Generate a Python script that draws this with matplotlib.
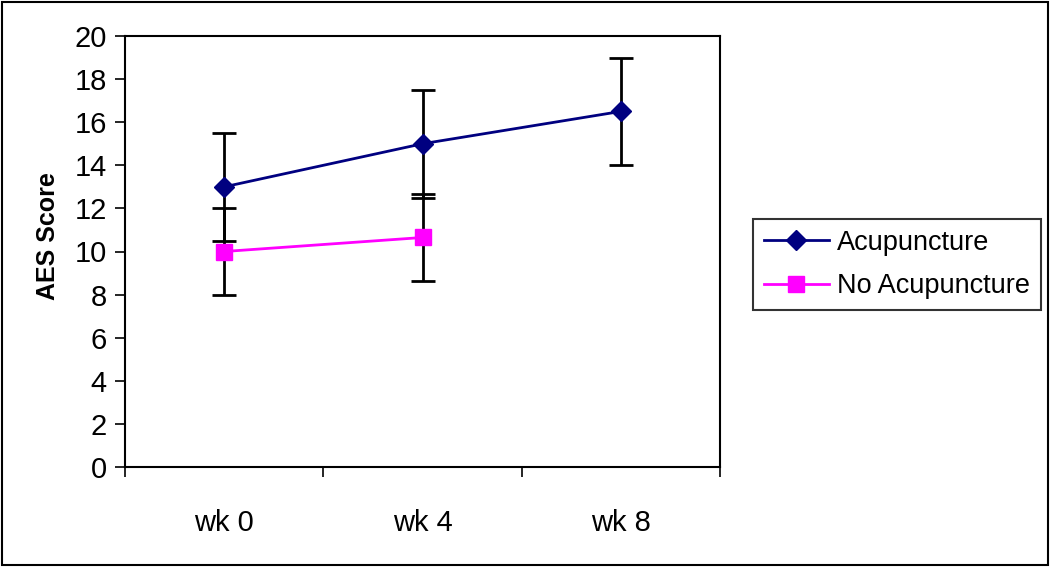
import numpy as np
import matplotlib.pyplot as plt
from matplotlib.patches import Rectangle

plt.rcParams['font.family'] = ['Liberation Sans', 'DejaVu Sans']

weeks = ['wk 0', 'wk 4', 'wk 8']
acu = [13.0, 15.0, 16.5]
acu_err = [2.5, 2.5, 2.5]
no_acu = [10.0, 10.65]
no_acu_err = [2.0, 2.0]

fig = plt.figure(figsize=(10.5, 5.67), dpi=100)
ax = fig.add_axes([125 / 1050, 1 - 467 / 567, 595 / 1050, 431 / 567])

x = np.arange(len(weeks)) + 0.5
ax.errorbar(x, acu, yerr=acu_err, color='#000080', lw=2, marker='D', ms=10.5,
            ecolor='black', elinewidth=2, capsize=8.5, capthick=2, label='Acupuncture')
ax.errorbar(x[:len(no_acu)], no_acu, yerr=no_acu_err, color='#FF00FF', lw=2, marker='s', ms=11,
            ecolor='black', elinewidth=2, capsize=8.5, capthick=2, label='No Acupuncture')

ax.set_xlim(0, 3)
ax.set_ylim(0, 20)
ax.set_yticks(np.arange(0, 21, 2))
ax.set_xticks([0, 1, 2, 3])
ax.set_xticklabels([])
ax.set_xticks(x, minor=True)
ax.set_xticklabels(weeks, minor=True)
ax.tick_params(axis='x', which='minor', length=0, pad=30, labelsize=21)
ax.tick_params(axis='x', which='major', length=7, width=1.2, direction='out')
ax.tick_params(axis='y', length=7, width=1.2, direction='out', labelsize=21, pad=6)
ax.set_ylabel('AES Score', fontsize=18, fontweight='bold')
ax.yaxis.set_label_coords(-0.11, 0.535)
for s in ax.spines.values():
    s.set_linewidth(1.5)

handles, labels = ax.get_legend_handles_labels()
leg = ax.legend([h[0] for h in handles], labels, loc='center left', bbox_to_anchor=(1.055, 0.47),
                fontsize=19.5, frameon=True, fancybox=False, edgecolor='black', handlelength=2.4,
                borderpad=0.4, labelspacing=0.65, handletextpad=0.3, borderaxespad=0)
leg.get_frame().set_linewidth(1.5)

fig.patches.append(Rectangle((0.002, 0.003), 0.996, 0.994, transform=fig.transFigure,
                             fill=False, edgecolor='black', lw=1.5))

fig.savefig('out.png', dpi=100)
